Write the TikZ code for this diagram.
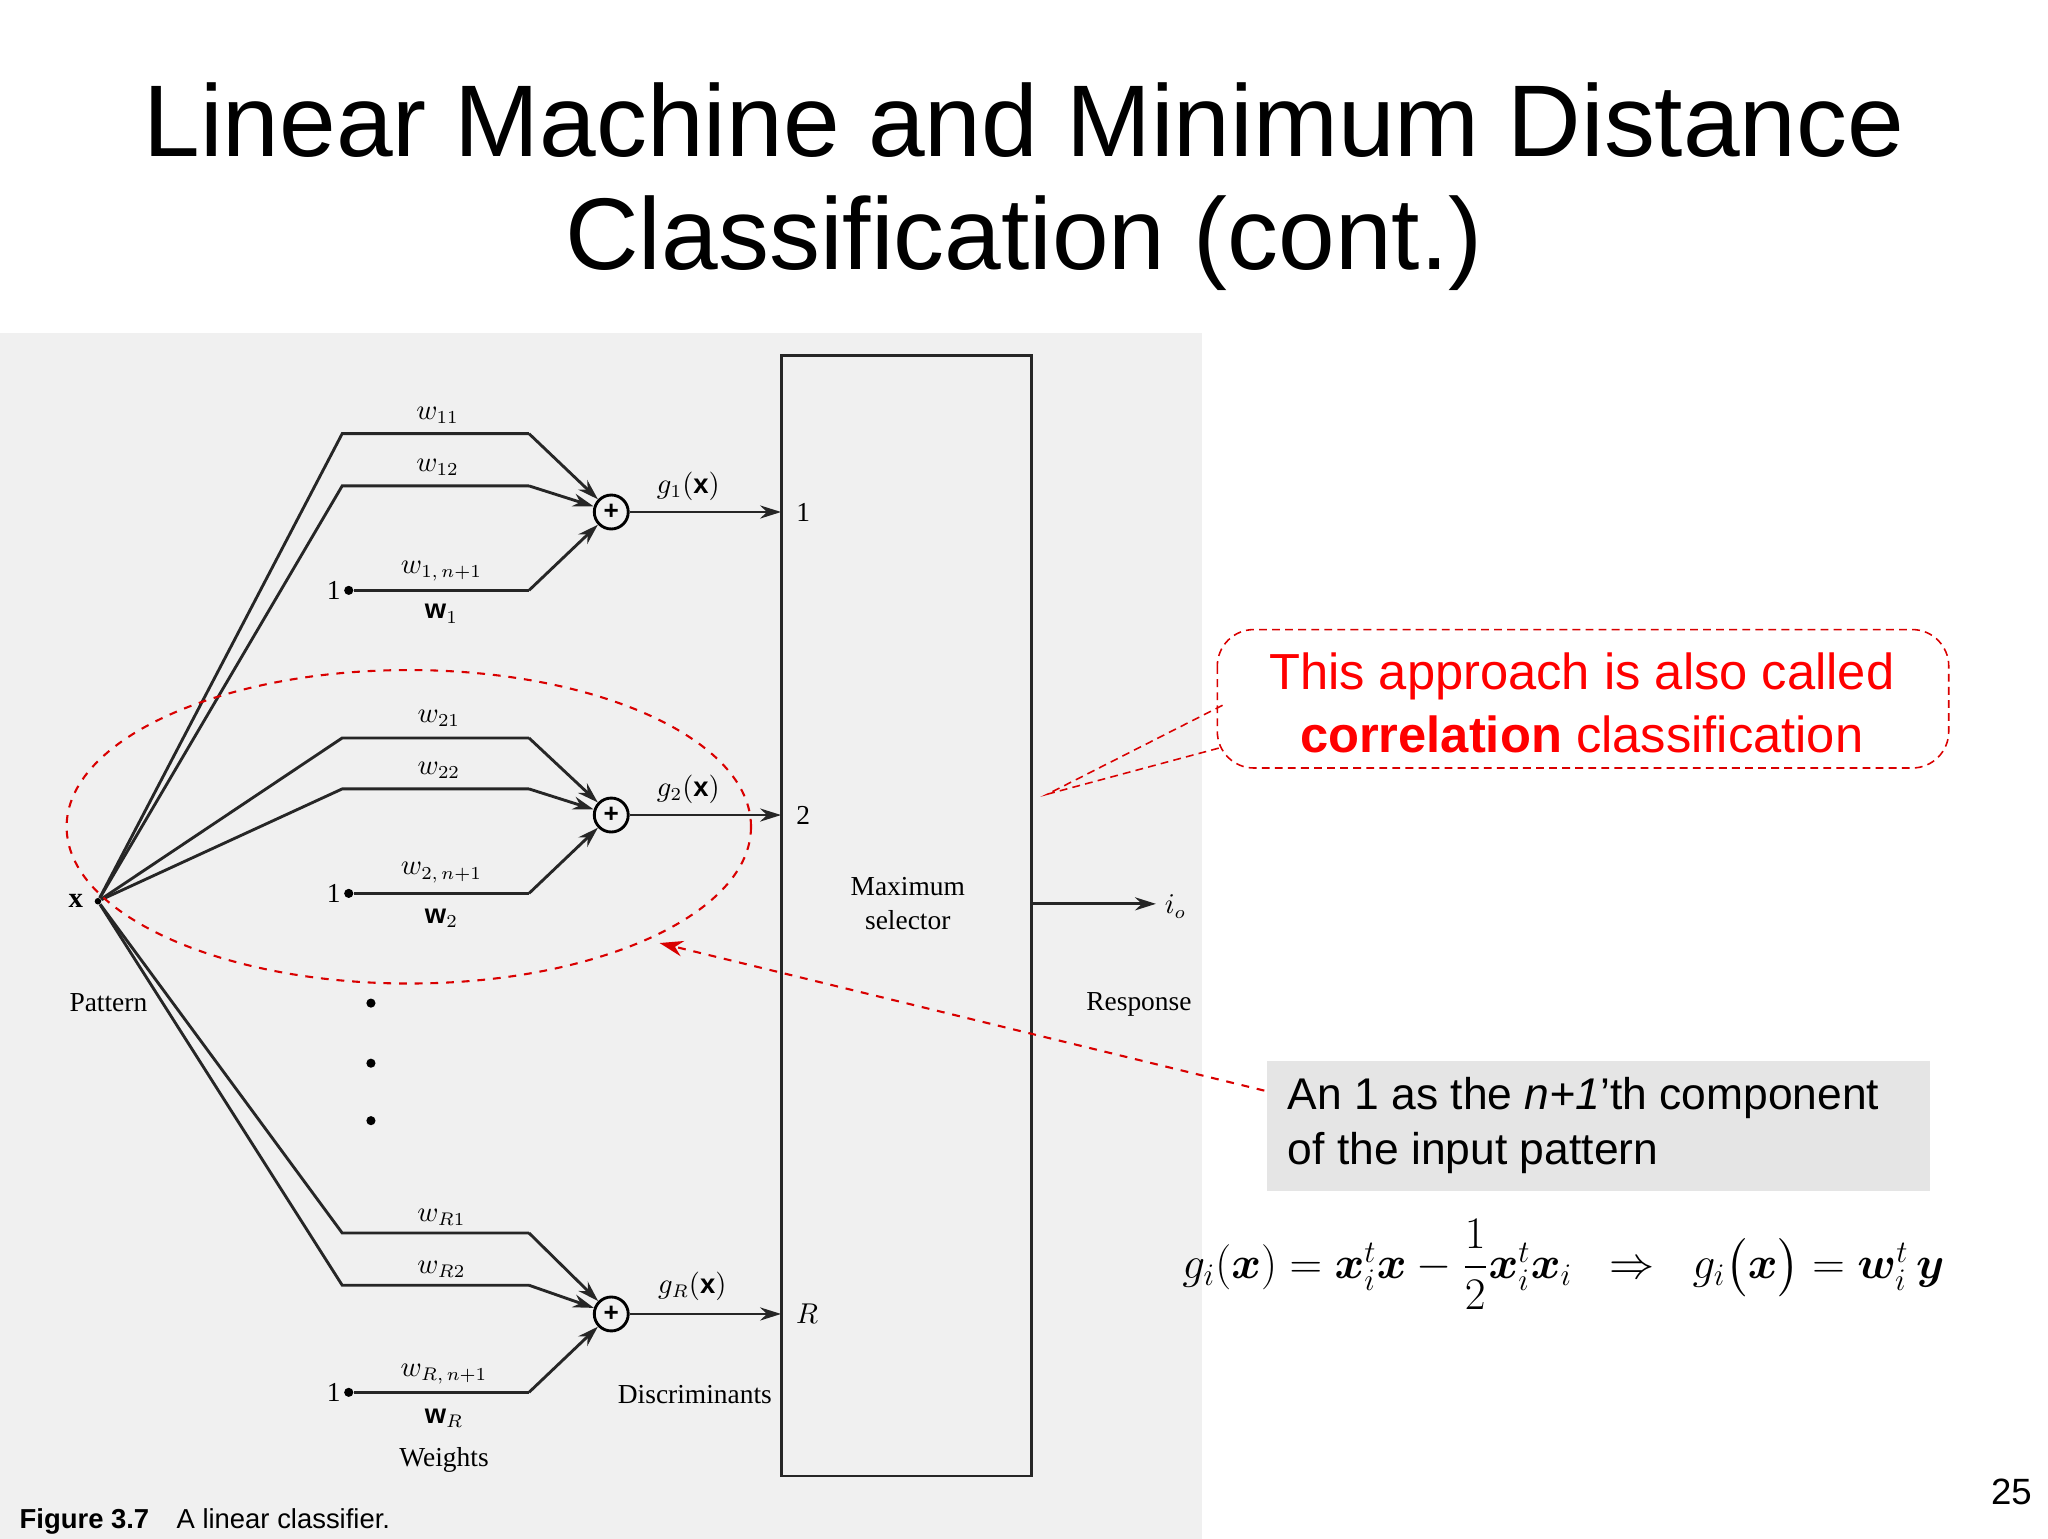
\documentclass[tikz,border=0pt]{standalone}
\usepackage{amsmath,amssymb,bm}
\usepackage{fontspec}
\setmainfont{Liberation Sans}
\newfontfamily\serf{Liberation Serif}
\usetikzlibrary{arrows.meta,shapes.geometric}
\begin{document}
\begin{tikzpicture}[x=0.5pt,y=-0.5pt,
  ln/.style={line width=1.1pt,black!85},
  arr/.style={ln,-{Stealth[length=8pt,width=5pt]}},
  lab/.style={font=\serf\fontsize{10.5}{11}\selectfont,inner sep=1pt},
  adder/.style={circle,draw,line width=1.1pt,minimum size=13pt,inner sep=0pt,font=\bfseries\fontsize{10}{10}\selectfont},
  dot/.style={circle,fill=black,inner sep=0pt,minimum size=3.5pt}]
\useasboundingbox (0,0) rectangle (1568,1178);
\fill[white] (0,0) rectangle (1568,1178);
\fill[black!6] (0,255) rectangle (920,1178);
\node[font=\fontsize{39}{48}\selectfont] (t1) at (784,92) {Linear Machine and Minimum Distance};
\node[font=\fontsize{39}{48}\selectfont] (t2) at (784,186) {Classification (cont.)};
% box
\draw[ln] (598,272) rectangle (790,1130);
\node[dot,minimum size=2.5pt] (x) at (75,690) {};
\node[lab,font=\serf\bfseries\fontsize{11}{11}\selectfont] at (58,690) {x};
% adders
\node[adder] (s1) at (468,392) {+};
\node[adder] (s2) at (468,624) {+};
\node[adder] (sR) at (468,1006) {+};
% group 1
\coordinate (a1) at (262,332); \coordinate (b1) at (405,332);
\coordinate (a2) at (262,372); \coordinate (b2) at (405,372);
\node[dot] (o1) at (267,452) {}; \coordinate (b3) at (405,452);
\draw[ln] (x)--(a1)--(b1); \draw[arr] (b1)--(s1);
\draw[ln] (x)--(a2)--(b2); \draw[arr] (b2)--(s1);
\draw[ln] (o1)--(b3); \draw[arr] (b3)--(s1);
\node[lab,left] at (o1.west) {\serf 1};
\node[lab] at (335,318) {$w_{11}$};
\node[lab] at (335,358) {$w_{12}$};
\node[lab] at (338,437) {$w_{1,\,n+1}$};
\node[lab] at (338,470) {$\mathbf{w}_1$};
\coordinate (e1) at (598,392);
\draw[arr] (s1)--(e1);
\node[lab] at (527,372) {$g_1(\mathbf{x})$};
\node[lab] at (615,392) {1};
% group 2
\coordinate (c1) at (262,565); \coordinate (d1) at (405,565);
\coordinate (c2) at (262,604); \coordinate (d2) at (405,604);
\node[dot] (o2) at (267,684) {}; \coordinate (d3) at (405,684);
\draw[ln] (x)--(c1)--(d1); \draw[arr] (d1)--(s2);
\draw[ln] (x)--(c2)--(d2); \draw[arr] (d2)--(s2);
\draw[ln] (o2)--(d3); \draw[arr] (d3)--(s2);
\node[lab,left] at (o2.west) {\serf 1};
\node[lab] at (336,550) {$w_{21}$};
\node[lab] at (336,590) {$w_{22}$};
\node[lab] at (338,668) {$w_{2,\,n+1}$};
\node[lab] at (338,703) {$\mathbf{w}_2$};
\coordinate (e2) at (598,624);
\draw[arr] (s2)--(e2);
\node[lab] at (527,604) {$g_2(\mathbf{x})$};
\node[lab] at (615,624) {2};
% group R
\coordinate (f1) at (262,944); \coordinate (h1) at (405,944);
\coordinate (f2) at (262,984); \coordinate (h2) at (405,984);
\node[dot] (o3) at (267,1066) {}; \coordinate (h3) at (405,1066);
\draw[ln] (x)--(f1)--(h1); \draw[arr] (h1)--(sR);
\draw[ln] (x)--(f2)--(h2); \draw[arr] (h2)--(sR);
\draw[ln] (o3)--(h3); \draw[arr] (h3)--(sR);
\node[lab,left] at (o3.west) {\serf 1};
\node[lab] at (338,932) {$w_{R1}$};
\node[lab] at (338,972) {$w_{R2}$};
\node[lab] at (340,1052) {$w_{R,\,n+1}$};
\node[lab] at (340,1086) {$\mathbf{w}_R$};
\coordinate (eR) at (598,1006);
\draw[arr] (sR)--(eR);
\node[lab] at (530,985) {$g_R(\mathbf{x})$};
\node[lab] at (618,1006) {$R$};
% dots
\node[dot] (p1) at (284,768) {};
\node[dot] (p2) at (284,814) {};
\node[dot] (p3) at (284,858) {};
% labels
\node[lab] at (83,768) {Pattern};
\node[lab] at (340,1118) {Weights};
\node[lab] at (532,1068) {Discriminants};
\node[lab,align=center] at (695,692) {Maximum\\[2pt]selector};
\node[lab] at (872,769) {Response};
\coordinate (out0) at (790,692); \coordinate (out1) at (885,692);
\draw[arr] (out0)--(out1);
\node[lab] at (900,694) {$i_o$};
\node[anchor=west,font=\fontsize{10.5}{12}\selectfont\bfseries] at (8,1165) {Figure 3.7\quad\mdseries A linear classifier.};
% red ellipse
\draw[red!85!black,dashed,line width=0.8pt] (313,633) ellipse [x radius=262,y radius=120];
% callout
\draw[red!85!black,densely dashed,line width=0.6pt,rounded corners=14pt] (932,482) rectangle (1492,588);
\coordinate (tip) at (802,608);
\coordinate (k1) at (936,540); \coordinate (k2) at (936,572);
\draw[red!85!black,densely dashed,line width=0.6pt] (k1)--(tip)--(k2);
\node[text=red,font=\fontsize{19.4}{24}\selectfont,align=center] (call) at (1211,538) {This approach is also called\\\textbf{correlation} classification};
% gray box
\fill[black!10] (970,812) rectangle (1478,912);
\node[anchor=west,font=\fontsize{17}{21}\selectfont,align=left] (gb) at (979,862) {An 1 as the \textit{n+1}’th component\\of the input pattern};
\coordinate (ga) at (968,835); \coordinate (gt) at (505,722);
\draw[red!85!black,dashed,line width=0.8pt,-{Stealth[length=9pt,width=6pt]}] (ga)--(gt);
% formula
\node[font=\fontsize{18.6}{22}\selectfont] (fm) at (1197,968) {$g_i(\bm{x}) = \bm{x}_i^t\bm{x} - \dfrac{1}{2}\bm{x}_i^t\bm{x}_i \;\;\Rightarrow\;\; g_i\big(\bm{x}\big) = \bm{w}_i^t\,\bm{y}$};
\node[font=\fontsize{14}{16}\selectfont] at (1540,1142) {25};
\end{tikzpicture}
\end{document}
